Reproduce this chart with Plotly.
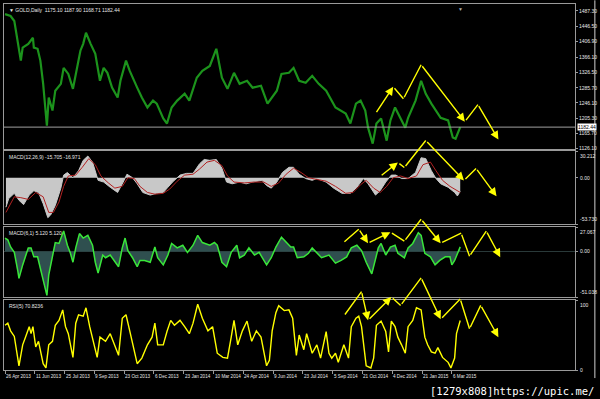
import plotly.graph_objects as go

# ---------------- data (x = trading-bar index from 26 Apr 2013) ----------------
price_bar = [0, 6, 10, 14, 17, 19, 25, 30, 31, 35, 38, 41, 45, 47, 51, 54, 60, 63, 68, 73, 76, 81, 84, 87,
             92, 97, 102, 106, 110, 115, 121, 124, 130, 134, 142, 147, 153, 159, 163, 170, 174, 179, 185,
             193, 198, 206, 212, 220, 227, 233, 239, 246, 252, 260, 266, 275, 282, 287, 292, 297, 305, 310,
             316, 323, 330, 337, 345, 355, 366, 371, 377, 382, 387, 390, 395, 399, 404, 410, 414, 419, 425,
             430, 433, 441, 447, 452, 458, 468, 476, 481, 484, 489]
price_val = [1479, 1474, 1461, 1401, 1357, 1391, 1401, 1417, 1391, 1388, 1357, 1296, 1186, 1260, 1226, 1278,
             1296, 1338, 1322, 1283, 1322, 1383, 1401, 1430, 1401, 1375, 1304, 1338, 1325, 1286, 1260, 1304,
             1357, 1330, 1286, 1260, 1234, 1252, 1244, 1205, 1192, 1234, 1252, 1270, 1252, 1312, 1330, 1343,
             1388, 1312, 1283, 1325, 1296, 1304, 1286, 1291, 1244, 1260, 1278, 1322, 1325, 1338, 1304, 1299,
             1317, 1296, 1278, 1234, 1218, 1192, 1244, 1252, 1226, 1181, 1139, 1192, 1205, 1147, 1200, 1234,
             1207, 1181, 1207, 1252, 1304, 1270, 1244, 1207, 1200, 1155, 1152, 1182.44]

macd_bar = [1, 4, 10, 15, 20, 26, 31, 36, 41, 46, 49, 54, 60, 63, 67, 73, 79, 84, 89, 94, 100, 106, 113, 121,
            127, 131, 137, 142, 148, 156, 163, 170, 175, 180, 188, 195, 202, 209, 214, 220, 227, 233, 238,
            244, 252, 259, 266, 276, 281, 286, 292, 298, 305, 310, 316, 323, 330, 335, 345, 353, 362, 371,
            378, 385, 390, 398, 403, 409, 415, 420, 426, 433, 441, 447, 452, 458, 463, 468, 476, 483, 486, 489]
macd_val = [-34, -24, -18, -26, -31, -20, -15, -17, -30, -46, -43, -32, -12, 3, 6, 0, 8, 20, 25, 18, -3, -5,
            -11, -17, -5, 4, 0, -7, -17, -20, -18, -17, -11, -5, 3, 5, 5, 16, 21, 20, 21, 11, -5, -7, -5, -7,
            -5, -3, -9, -12, -5, 6, 12, 12, 4, -1, -3, -1, -5, -12, -18, -18, -11, -1, -7, -20, -15, -5, 3,
            3, -1, -1, 6, 23, 22, 8, -1, -7, -11, -17, -21, -15.705]

signal_bar = [1, 10, 17, 25, 33, 41, 47, 52, 58, 63, 68, 76, 83, 90, 97, 103, 111, 118, 126, 132, 139, 145,
              153, 161, 170, 177, 185, 193, 202, 209, 217, 225, 233, 239, 246, 257, 268, 278, 286, 294, 302,
              310, 318, 326, 335, 345, 355, 366, 374, 382, 388, 396, 403, 410, 417, 425, 433, 442, 449, 457,
              463, 470, 478, 489]
signal_val = [-40, -22, -23, -25, -17, -22, -40, -40, -28, -10, 2, 3, 12, 22, 15, 2, -6, -12, -10, 0, -1, -10,
              -17, -19, -18, -13, -4, 3, 4, 10, 18, 20, 14, 2, -5, -6, -5, -5, -10, -6, 4, 11, 6, 0, -2, -4,
              -10, -18, -17, -8, -3, -12, -17, -10, 0, 2, -1, 2, 15, 18, 8, -3, -10, -16.971]

osc_bar = [0, 3, 6, 10, 14, 15, 19, 22, 25, 28, 31, 35, 38, 42, 45, 47, 51, 54, 58, 63, 67, 70, 73, 76, 80, 84,
           89, 94, 97, 100, 105, 108, 113, 118, 122, 126, 129, 132, 137, 142, 145, 150, 156, 161, 164, 170,
           175, 179, 185, 191, 196, 202, 207, 212, 220, 225, 228, 233, 238, 243, 249, 252, 257, 262, 268, 273,
           281, 286, 291, 297, 302, 307, 310, 314, 321, 326, 330, 335, 340, 348, 355, 361, 367, 372, 378, 383,
           388, 394, 398, 401, 404, 409, 414, 419, 422, 429, 433, 438, 444, 447, 451, 457, 462, 467, 473, 478,
           480, 483, 489]
osc_val = [15, 13, 5, -1, -23, -30, -15, -6, 4, 4, -6, -6, -19, -35, -49, -26, -4, 10, 9, 23, 7, -1, -12, 4,
           20, 15, 18, 7, -12, -24, -4, -7, -4, -12, -17, 4, 15, 1, -7, -17, -10, -10, -12, 5, -7, -15, -4, 9,
           4, 7, -1, 7, 18, 10, 7, 10, 7, -12, -17, -1, 7, -7, -4, 4, -4, -1, -15, -7, 5, 16, 10, 5, 5, -7, -6,
           -2, 4, -1, -7, -4, -13, -10, -6, 4, 7, 1, -12, -25, -7, 4, 9, -4, 5, 7, -2, -7, 4, 9, 21, 18, -2, -6,
           -15, -10, -6, -6, -15, -10, 5.12]

rsi_bar = [0, 3, 6, 10, 15, 19, 22, 26, 28, 30, 33, 36, 41, 44, 47, 51, 54, 58, 62, 65, 68, 73, 76, 79, 84,
           87, 91, 95, 99, 102, 108, 113, 118, 122, 126, 130, 134, 138, 142, 147, 153, 158, 161, 164, 170,
           174, 178, 182, 188, 193, 198, 202, 207, 212, 218, 223, 228, 234, 239, 243, 246, 250, 255, 260, 265,
           270, 275, 281, 284, 287, 291, 294, 300, 305, 309, 313, 316, 321, 324, 330, 335, 339, 345, 348, 351,
           355, 358, 364, 369, 372, 377, 380, 383, 388, 393, 396, 399, 404, 409, 412, 415, 419, 422, 426, 430,
           433, 438, 442, 447, 451, 454, 458, 462, 465, 470, 476, 479, 483, 485, 489]
rsi_val = [64, 67, 56, 48, 6, 36, 47, 62, 52, 62, 33, 41, 9, 3, 36, 41, 64, 71, 86, 62, 52, 18, 67, 79, 77, 89,
           62, 41, 18, 47, 41, 52, 36, 21, 74, 79, 56, 32, 9, 17, 36, 47, 67, 36, 36, 55, 71, 64, 71, 62, 52,
           67, 94, 74, 56, 62, 24, 18, 17, 47, 71, 36, 56, 70, 41, 56, 47, 6, 14, 56, 82, 92, 85, 86, 74, 21,
           50, 29, 52, 24, 36, 17, 55, 24, 17, 24, 11, 36, 17, 62, 74, 77, 62, 6, 3, 17, 64, 70, 55, 26, 70,
           62, 47, 36, 24, 62, 71, 89, 86, 47, 36, 26, 24, 32, 18, 11, 3, 17, 52, 70.82]

# hand-drawn yellow zigzag forecasts (bar, value) and which segments carry an arrow head
zig_price_bar = [398, 417, 428, 447, 494, 508, 530]
zig_price_val = [1217.7, 1288.4, 1257, 1346, 1196.8, 1241.3, 1149.7]
zig_price_heads = [1, 4, 6]
zig_macd_bar = [403, 422, 429, 452, 493, 506, 528]
zig_macd_val = [1.5, 17.6, 11.8, 42.9, -3.1, 10.7, -21.5]
zig_macd_heads = [1, 4, 6]
zig_osc_bar = [363, 380, 390, 414, 429, 447, 468, 490, 499, 517, 532]
zig_osc_val = [9.3, 24.9, 9.3, 21.5, 11.5, 36, 9.3, 20.4, -5.2, 22.7, -6.4]
zig_osc_heads = [2, 3, 6, 10]
zig_rsi_bar = [364, 383, 390, 415, 425, 447, 468, 489, 499, 511, 530]
zig_rsi_val = [77.3, 112, 71.2, 104.5, 92.4, 131.8, 72.7, 101.5, 59, 92.4, 47]
zig_rsi_heads = [2, 3, 6, 10]

tick_bars = [0, 32, 64, 96, 128, 160, 192, 224, 256, 288, 320, 352, 384, 416, 448, 480]
tick_labels = ["26 Apr 2013", "11 Jun 2013", "25 Jul 2013", "9 Sep 2013", "23 Oct 2013", "6 Dec 2013",
               "23 Jan 2014", "10 Mar 2014", "24 Apr 2014", "9 Jun 2014", "23 Jul 2014", "5 Sep 2014",
               "21 Oct 2014", "4 Dec 2014", "21 Jan 2015", "6 Mar 2015"]

price_ticks = [1487.30, 1446.50, 1406.90, 1366.10, 1326.50, 1285.70, 1246.10, 1205.30, 1165.70, 1126.10]
macd_ticks = [30.212, 0.0, -53.730]
macd_ticktext = ["30.212", "0.00", "-53.730"]
osc_ticks = [27.067, 0.0, -51.038]
osc_ticktext = ["27.067", "0.00", "-51.038"]
rsi_ticks = [100, 0]
rsi_ticktext = ["100", "0"]
last_price = 1182.44

titles = ["\u25BC GOLD,Daily  1175.10 1187.90 1168.71 1182.44",
          "MACD(12,26,9) -15.705 -16.971",
          "MACD(6,1) 5.120 5.120",
          "RSI(5) 70.8236"]

# ---------------- styling ----------------
GREEN = "#1c931c"
YELLOW = "#ffff00"
LIME = "#39e639"
GRAY = "#9a9a9a"
TXT = "#e8e8e8"
FONT = "Liberation Sans"

fig = go.Figure()
fig.add_trace(go.Scatter(x=price_bar, y=price_val, mode="lines", line=dict(color=GREEN, width=2.2),
                         xaxis="x", yaxis="y"))
fig.add_trace(go.Scatter(x=macd_bar, y=macd_val, mode="lines", fill="tozeroy", fillcolor="#c8c8c8",
                         line=dict(color="#c8c8c8", width=1), xaxis="x2", yaxis="y2"))
fig.add_trace(go.Scatter(x=signal_bar, y=signal_val, mode="lines", line=dict(color="#b22222", width=1),
                         xaxis="x2", yaxis="y2"))
fig.add_trace(go.Scatter(x=osc_bar, y=osc_val, mode="lines", fill="tozeroy", fillcolor="#2f4f4f",
                         line=dict(color="#2f4f4f", width=0.5), xaxis="x3", yaxis="y3"))
fig.add_trace(go.Scatter(x=osc_bar, y=osc_val, mode="lines", line=dict(color=LIME, width=1.5),
                         xaxis="x3", yaxis="y3"))
fig.add_trace(go.Scatter(x=rsi_bar, y=rsi_val, mode="lines", line=dict(color=YELLOW, width=1.4),
                         xaxis="x4", yaxis="y4"))

xr = [-1.07, 612.3]
xcommon = dict(range=xr, showline=True, mirror=True, linecolor=GRAY, linewidth=1, showgrid=False,
               zeroline=False, showticklabels=False, fixedrange=True)
ycommon = dict(side="right", showline=True, mirror=True, linecolor=GRAY, linewidth=1, showgrid=False,
               zeroline=False, ticks="outside", ticklen=2, tickcolor=GRAY,
               tickfont=dict(size=5, color=TXT, family=FONT))

fig.update_layout(
    width=600, height=399, margin=dict(l=3, r=22, t=3, b=29),
    paper_bgcolor="black", plot_bgcolor="black", showlegend=False,
    xaxis=dict(domain=[0, 1], anchor="y", **xcommon),
    xaxis2=dict(domain=[0, 1], anchor="y2", matches="x", **xcommon),
    xaxis3=dict(domain=[0, 1], anchor="y3", matches="x", **xcommon),
    xaxis4=dict(domain=[0, 1], anchor="y4", matches="x", **{**xcommon, "ticks": "outside", "ticklen": 3,
                "tickcolor": GRAY, "tickvals": tick_bars}),
    yaxis=dict(domain=[0.605, 1], anchor="x", range=[1126.1, 1505.6], tickvals=price_ticks,
               ticktext=[f"{v:.2f}" for v in price_ticks], **ycommon),
    yaxis2=dict(domain=[0.398, 0.597], anchor="x2", range=[-53.73, 30.212], tickvals=macd_ticks,
                **{**ycommon, "showticklabels": False}),
    yaxis3=dict(domain=[0.199, 0.390], anchor="x3", range=[-51.038, 27.067], tickvals=osc_ticks,
                **{**ycommon, "showticklabels": False}),
    yaxis4=dict(domain=[0, 0.191], anchor="x4", range=[0, 100], tickvals=rsi_ticks,
                **{**ycommon, "showticklabels": False}),
)

# indicator scale labels: top value hangs below the top edge, bottom value sits above the bottom edge
for k, (vals, texts) in enumerate([(macd_ticks, macd_ticktext), (osc_ticks, osc_ticktext),
                                   (rsi_ticks, rsi_ticktext)]):
    n = k + 2
    lo, hi = min(vals), max(vals)
    for v, t in zip(vals, texts):
        anchor = "top" if v == hi else ("bottom" if (v == lo and n != 4) else "middle")
        fig.add_annotation(xref=f"x{n} domain", yref=f"y{n}", x=1, y=v, text=t, showarrow=False,
                           xanchor="left", yanchor=anchor, xshift=3,
                           font=dict(size=5, color=TXT, family=FONT))

# last price line + box
fig.add_shape(type="line", xref="x domain", yref="y", x0=0, x1=1, y0=last_price, y1=last_price,
              line=dict(color="#a0a0a0", width=1))
fig.add_annotation(xref="x domain", yref="y", x=1, y=last_price, text=f"{last_price:.2f}", showarrow=False,
                   xanchor="left", xshift=2, bgcolor="white", font=dict(size=5, color="black", family=FONT),
                   borderpad=0)
# dark zero level line in MACD(6,1)
fig.add_shape(type="line", xref="x3 domain", yref="y3", x0=0, x1=1, y0=0, y1=0,
              line=dict(color="#2a3a3a", width=1), layer="below")

# panel titles
for i, t in enumerate(titles):
    xr_ = "x domain" if i == 0 else f"x{i+1} domain"
    yr_ = "y domain" if i == 0 else f"y{i+1} domain"
    fig.add_annotation(xref=xr_, yref=yr_, x=0, y=1, text=t, showarrow=False, xanchor="left",
                       yanchor="top", xshift=3, yshift=-1, font=dict(size=5, color=TXT, family=FONT))

# shift marker
fig.add_annotation(xref="x", yref="y domain", x=489, y=1, text="\u25BC", showarrow=False, yanchor="top",
                   font=dict(size=5, color="#b0b0b0"))

# date labels (left-aligned at the tick like MetaTrader)
for b, lab in zip(tick_bars, tick_labels):
    fig.add_annotation(xref="x4", yref="paper", x=b, y=0, text=lab, showarrow=False, xanchor="left",
                       yanchor="top", yshift=-2, xshift=-1, font=dict(size=4.6, color=TXT, family=FONT))


def zigzag(xs, ys, heads, xref, yref):
    for i in range(1, len(xs)):
        fig.add_annotation(x=xs[i], y=ys[i], ax=xs[i - 1], ay=ys[i - 1], xref=xref, yref=yref,
                           axref=xref, ayref=yref, text="", showarrow=True,
                           arrowhead=2 if i in heads else 0, arrowsize=1.2, arrowwidth=1.4,
                           arrowcolor=YELLOW, standoff=0, startstandoff=0)


zigzag(zig_price_bar, zig_price_val, zig_price_heads, "x", "y")
zigzag(zig_macd_bar, zig_macd_val, zig_macd_heads, "x2", "y2")
zigzag(zig_osc_bar, zig_osc_val, zig_osc_heads, "x3", "y3")
zigzag(zig_rsi_bar, zig_rsi_val, zig_rsi_heads, "x4", "y4")

# window edge and watermark
fig.add_shape(type="line", xref="paper", yref="paper", x0=1.0348, x1=1.0348, y0=-0.022, y1=1.01,
              line=dict(color="#d0d0d0", width=1))
fig.add_annotation(xref="paper", yref="paper", x=1.0365, y=-0.035, text="[1279x808]https://upic.me/",
                   showarrow=False, xanchor="right", yanchor="top",
                   font=dict(size=10.5, color="white", family="DejaVu Sans Mono"))

fig.write_html("out.html")
